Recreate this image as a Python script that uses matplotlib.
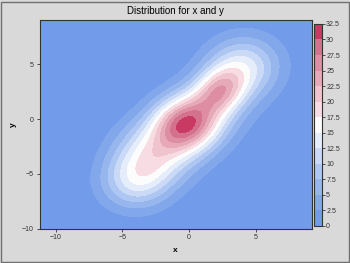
import numpy as np
import matplotlib
matplotlib.use("Agg")
import matplotlib.pyplot as plt
from matplotlib.colors import ListedColormap, BoundaryNorm
from matplotlib.patches import Rectangle

# Density bumps: height, centre x, centre y, spread along, spread across, angle (deg)
bump_height = [12.5, 18.0, 7.5, 13.5, 10.5, 10.5]
bump_cx = [0.2, -0.3, -2.9, 2.3, -4.0, 4.1]
bump_cy = [-0.5, -0.4, -3.0, 2.6, -5.6, 4.9]
bump_major = [4.0, 1.7, 1.8, 1.5, 1.8, 1.9]
bump_minor = [2.0, 1.6, 2.0, 1.2, 1.8, 1.9]
bump_angle = [50, 52, 45, 60, 58, 50]

levels = [0, 2.5, 5, 7.5, 10, 12.5, 15, 17.5, 20, 22.5, 25, 27.5, 30, 32.5]
level_labels = ["0", "2.5", "5", "7.5", "10", "12.5", "15", "17.5", "20", "22.5", "25", "27.5", "30", "32.5"]
band_colors = ["#729be9", "#82a7eb", "#97b6ee", "#aec7f2", "#c9d9f6", "#e5edfb",
               "#fdfcfd", "#f7dde3", "#efc4ce", "#e6a9b8", "#dd8ea3", "#d4718c", "#c93a62"]
x_ticks = [-10, -5, 0, 5]
y_ticks = [-10, -5, 0, 5]
x_range = [-11.2, 9.2]
y_range = [-10.0, 9.05]

xg = np.linspace(x_range[0], x_range[1], 400)
yg = np.linspace(y_range[0], y_range[1], 400)
X, Y = np.meshgrid(xg, yg)
Z = np.zeros_like(X)
for h, cx, cy, sa, sb, ang in zip(bump_height, bump_cx, bump_cy, bump_major, bump_minor, bump_angle):
    t = np.deg2rad(ang)
    u = (X - cx) * np.cos(t) + (Y - cy) * np.sin(t)
    v = -(X - cx) * np.sin(t) + (Y - cy) * np.cos(t)
    Z += h * np.exp(-0.5 * ((u / sa) ** 2 + (v / sb) ** 2))
Z = np.clip(Z, 0, 32.49)

cmap = ListedColormap(band_colors)
norm = BoundaryNorm(levels, cmap.N)

fig = plt.figure(figsize=(3.5, 2.63), dpi=100, facecolor="#d9d9d9")
plt.rcParams["font.family"] = ["Liberation Sans", "DejaVu Sans"]
ax = fig.add_axes([0.113, 0.131, 0.777, 0.793])
ax.set_facecolor(band_colors[0])
cf = ax.contourf(X, Y, Z, levels=levels, cmap=cmap, norm=norm)
ax.set_xlim(x_range)
ax.set_ylim(y_range)
ax.set_xticks(x_ticks)
ax.set_yticks(y_ticks)
ax.tick_params(labelsize=5, length=2, width=0.6, color="#333333", labelcolor="#333333", pad=2)
for s in ax.spines.values():
    s.set_color("#333333")
    s.set_linewidth(0.8)
ax.set_xlabel("x", fontsize=6, fontweight="bold", labelpad=4)
ax.set_ylabel("y", fontsize=6, fontweight="bold", labelpad=4)
ax.set_title("Distribution for x and y", fontsize=7, pad=4)

cax = fig.add_axes([0.897, 0.141, 0.023, 0.768])
cb = fig.colorbar(cf, cax=cax, ticks=levels)
cb.ax.set_yticklabels(level_labels)
cb.ax.tick_params(labelsize=5, length=2, width=0.6, color="#333333", labelcolor="#333333", pad=1)
cb.outline.set_edgecolor("#333333")
cb.outline.set_linewidth(0.8)

fig.add_artist(Rectangle((0.003, 0.004), 0.994, 0.99, transform=fig.transFigure,
                         fill=False, edgecolor="#707070", linewidth=1))
fig.savefig("out.png", dpi=100, facecolor=fig.get_facecolor())
